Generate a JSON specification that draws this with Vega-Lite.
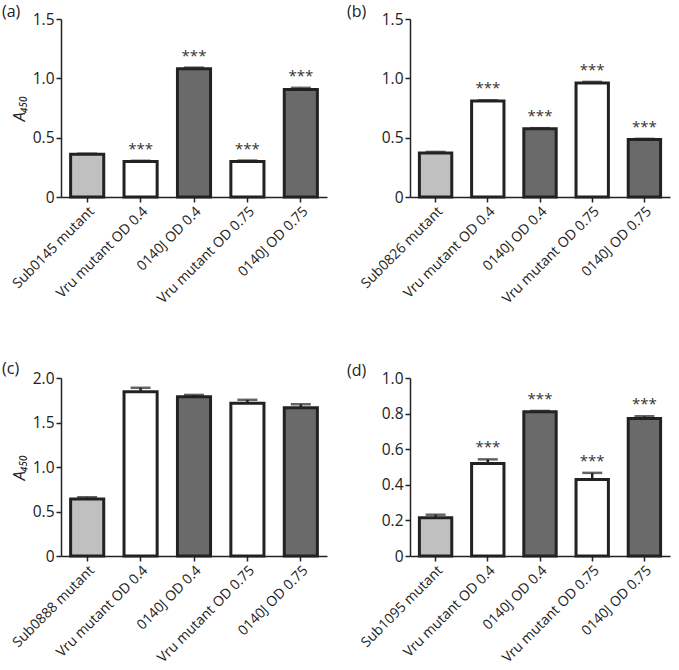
{
  "$schema": "https://vega.github.io/schema/vega-lite/v6.json",
  "background": "white",
  "padding": {"left": 2, "top": 4, "right": 3, "bottom": 3},
  "config": {
    "font": "Open Sans",
    "view": {"stroke": null},
    "axis": {"grid": false, "domainColor": "#222", "domainWidth": 1.5, "tickColor": "#222", "tickWidth": 1.5, "tickSize": 5, "labelColor": "#222", "labelFontSize": 15.5, "labelFont": "Open Sans", "titleFont": "Open Sans", "titleColor": "#222", "labelPadding": 2},
    "axisY": {"labelOverlap": false, "tickCount": 10},
    "title": {"fontSize": 16, "fontWeight": "normal", "color": "#222", "anchor": "start", "frame": "group", "font": "Open Sans"}
  },
  "data": {"values": [
    {"panel": "a", "group": "Sub0145 mutant", "kind": "mutant", "value": 0.36, "upper": 0.365, "sig": ""},
    {"panel": "a", "group": "Vru mutant OD 0.4", "kind": "vru", "value": 0.30, "upper": 0.305, "sig": "***"},
    {"panel": "a", "group": "0140J OD 0.4", "kind": "wt", "value": 1.08, "upper": 1.09, "sig": "***"},
    {"panel": "a", "group": "Vru mutant OD 0.75", "kind": "vru", "value": 0.30, "upper": 0.307, "sig": "***"},
    {"panel": "a", "group": "0140J OD 0.75", "kind": "wt", "value": 0.905, "upper": 0.92, "sig": "***"},
    {"panel": "b", "group": "Sub0826 mutant", "kind": "mutant", "value": 0.37, "upper": 0.38, "sig": ""},
    {"panel": "b", "group": "Vru mutant OD 0.4", "kind": "vru", "value": 0.81, "upper": 0.815, "sig": "***"},
    {"panel": "b", "group": "0140J OD 0.4", "kind": "wt", "value": 0.575, "upper": 0.58, "sig": "***"},
    {"panel": "b", "group": "Vru mutant OD 0.75", "kind": "vru", "value": 0.96, "upper": 0.97, "sig": "***"},
    {"panel": "b", "group": "0140J OD 0.75", "kind": "wt", "value": 0.485, "upper": 0.49, "sig": "***"},
    {"panel": "c", "group": "Sub0888 mutant", "kind": "mutant", "value": 0.64, "upper": 0.66, "sig": ""},
    {"panel": "c", "group": "Vru mutant OD 0.4", "kind": "vru", "value": 1.845, "upper": 1.89, "sig": ""},
    {"panel": "c", "group": "0140J OD 0.4", "kind": "wt", "value": 1.79, "upper": 1.81, "sig": ""},
    {"panel": "c", "group": "Vru mutant OD 0.75", "kind": "vru", "value": 1.715, "upper": 1.755, "sig": ""},
    {"panel": "c", "group": "0140J OD 0.75", "kind": "wt", "value": 1.665, "upper": 1.705, "sig": ""},
    {"panel": "d", "group": "Sub1095 mutant", "kind": "mutant", "value": 0.215, "upper": 0.232, "sig": ""},
    {"panel": "d", "group": "Vru mutant OD 0.4", "kind": "vru", "value": 0.52, "upper": 0.543, "sig": "***"},
    {"panel": "d", "group": "0140J OD 0.4", "kind": "wt", "value": 0.81, "upper": 0.815, "sig": "***"},
    {"panel": "d", "group": "Vru mutant OD 0.75", "kind": "vru", "value": 0.43, "upper": 0.467, "sig": "***"},
    {"panel": "d", "group": "0140J OD 0.75", "kind": "wt", "value": 0.772, "upper": 0.785, "sig": "***"}
  ]},
  "columns": 2,
  "align": "each",
  "spacing": {"column": 20, "row": 54},
  "concat": [
    {
      "title": {"text": "(a)", "dx": -59, "offset": -8},
      "width": 266, "height": 178,
      "transform": [{"filter": "datum.panel == 'a'"}],
      "encoding": {
        "x": {"field": "group", "type": "nominal", "sort": null, "title": null, "scale": {"paddingInner": 0.38, "paddingOuter": 0.18}, "axis": {"labelAngle": -45, "labelFontSize": 14}}
      },
      "layer": [
        {"mark": {"type": "bar", "stroke": "#222", "strokeWidth": 3}, "encoding": {
          "y": {"field": "value", "type": "quantitative", "scale": {"domain": [0, 1.5], "nice": false}, "title": "A₄₅₀", "axis": {"values": [0, 0.5, 1, 1.5], "tickCount": 10, "labelOverlap": false, "labelExpr": "datum.value == 0 ? '0' : format(datum.value, '.1f')", "titleFontSize": 16, "titleFontWeight": "normal", "titleFontStyle": "italic", "titlePadding": 5}},
          "fill": {"field": "kind", "type": "nominal", "scale": {"domain": ["mutant", "vru", "wt"], "range": ["#c0c0c0", "#ffffff", "#6a6a6a"]}, "legend": null}}},
        {"mark": {"type": "rule", "stroke": "#222", "strokeWidth": 2.5}, "encoding": {"y": {"field": "value", "type": "quantitative"}, "y2": {"field": "upper"}}},
        {"mark": {"type": "tick", "color": "#222", "size": 20, "thickness": 2.5}, "encoding": {"y": {"field": "upper", "type": "quantitative"}}},
        {"mark": {"type": "text", "baseline": "bottom", "dy": -4, "fontSize": 15, "color": "#333"}, "encoding": {"y": {"field": "upper", "type": "quantitative"}, "text": {"field": "sig"}}}
      ]
    },
    {
      "title": {"text": "(b)", "dx": -63, "offset": -8},
      "width": 260, "height": 178,
      "transform": [{"filter": "datum.panel == 'b'"}],
      "encoding": {
        "x": {"field": "group", "type": "nominal", "sort": null, "title": null, "scale": {"paddingInner": 0.38, "paddingOuter": 0.18}, "axis": {"labelAngle": -45, "labelFontSize": 14}}
      },
      "layer": [
        {"mark": {"type": "bar", "stroke": "#222", "strokeWidth": 3}, "encoding": {
          "y": {"field": "value", "type": "quantitative", "scale": {"domain": [0, 1.5], "nice": false}, "title": null, "axis": {"values": [0, 0.5, 1, 1.5], "tickCount": 10, "labelOverlap": false, "labelExpr": "datum.value == 0 ? '0' : format(datum.value, '.1f')"}},
          "fill": {"field": "kind", "type": "nominal", "scale": {"domain": ["mutant", "vru", "wt"], "range": ["#c0c0c0", "#ffffff", "#6a6a6a"]}, "legend": null}}},
        {"mark": {"type": "rule", "stroke": "#222", "strokeWidth": 2.5}, "encoding": {"y": {"field": "value", "type": "quantitative"}, "y2": {"field": "upper"}}},
        {"mark": {"type": "tick", "color": "#222", "size": 20, "thickness": 2.5}, "encoding": {"y": {"field": "upper", "type": "quantitative"}}},
        {"mark": {"type": "text", "baseline": "bottom", "dy": -4, "fontSize": 15, "color": "#333"}, "encoding": {"y": {"field": "upper", "type": "quantitative"}, "text": {"field": "sig"}}}
      ]
    },
    {
      "title": {"text": "(c)", "dx": -59, "offset": -8},
      "width": 266, "height": 178,
      "transform": [{"filter": "datum.panel == 'c'"}],
      "encoding": {
        "x": {"field": "group", "type": "nominal", "sort": null, "title": null, "scale": {"paddingInner": 0.38, "paddingOuter": 0.18}, "axis": {"labelAngle": -45, "labelFontSize": 14}}
      },
      "layer": [
        {"mark": {"type": "bar", "stroke": "#222", "strokeWidth": 3}, "encoding": {
          "y": {"field": "value", "type": "quantitative", "scale": {"domain": [0, 2], "nice": false}, "title": "A₄₅₀", "axis": {"values": [0, 0.5, 1, 1.5, 2], "tickCount": 10, "labelOverlap": false, "labelExpr": "datum.value == 0 ? '0' : format(datum.value, '.1f')", "titleFontSize": 16, "titleFontWeight": "normal", "titleFontStyle": "italic", "titlePadding": 5}},
          "fill": {"field": "kind", "type": "nominal", "scale": {"domain": ["mutant", "vru", "wt"], "range": ["#c0c0c0", "#ffffff", "#6a6a6a"]}, "legend": null}}},
        {"mark": {"type": "rule", "stroke": "#222", "strokeWidth": 2.5}, "encoding": {"y": {"field": "value", "type": "quantitative"}, "y2": {"field": "upper"}}},
        {"mark": {"type": "tick", "color": "#222", "size": 20, "thickness": 2.5}, "encoding": {"y": {"field": "upper", "type": "quantitative"}}},
        {"mark": {"type": "text", "baseline": "bottom", "dy": -4, "fontSize": 15, "color": "#333"}, "encoding": {"y": {"field": "upper", "type": "quantitative"}, "text": {"field": "sig"}}}
      ]
    },
    {
      "title": {"text": "(d)", "dx": -63, "offset": -8},
      "width": 260, "height": 178,
      "transform": [{"filter": "datum.panel == 'd'"}],
      "encoding": {
        "x": {"field": "group", "type": "nominal", "sort": null, "title": null, "scale": {"paddingInner": 0.38, "paddingOuter": 0.18}, "axis": {"labelAngle": -45, "labelFontSize": 14}}
      },
      "layer": [
        {"mark": {"type": "bar", "stroke": "#222", "strokeWidth": 3}, "encoding": {
          "y": {"field": "value", "type": "quantitative", "scale": {"domain": [0, 1], "nice": false}, "title": null, "axis": {"values": [0, 0.2, 0.4, 0.6, 0.8, 1], "tickCount": 10, "labelOverlap": false, "labelExpr": "datum.value == 0 ? '0' : format(datum.value, '.1f')"}},
          "fill": {"field": "kind", "type": "nominal", "scale": {"domain": ["mutant", "vru", "wt"], "range": ["#c0c0c0", "#ffffff", "#6a6a6a"]}, "legend": null}}},
        {"mark": {"type": "rule", "stroke": "#222", "strokeWidth": 2.5}, "encoding": {"y": {"field": "value", "type": "quantitative"}, "y2": {"field": "upper"}}},
        {"mark": {"type": "tick", "color": "#222", "size": 20, "thickness": 2.5}, "encoding": {"y": {"field": "upper", "type": "quantitative"}}},
        {"mark": {"type": "text", "baseline": "bottom", "dy": -4, "fontSize": 15, "color": "#333"}, "encoding": {"y": {"field": "upper", "type": "quantitative"}, "text": {"field": "sig"}}}
      ]
    }
  ]
}
